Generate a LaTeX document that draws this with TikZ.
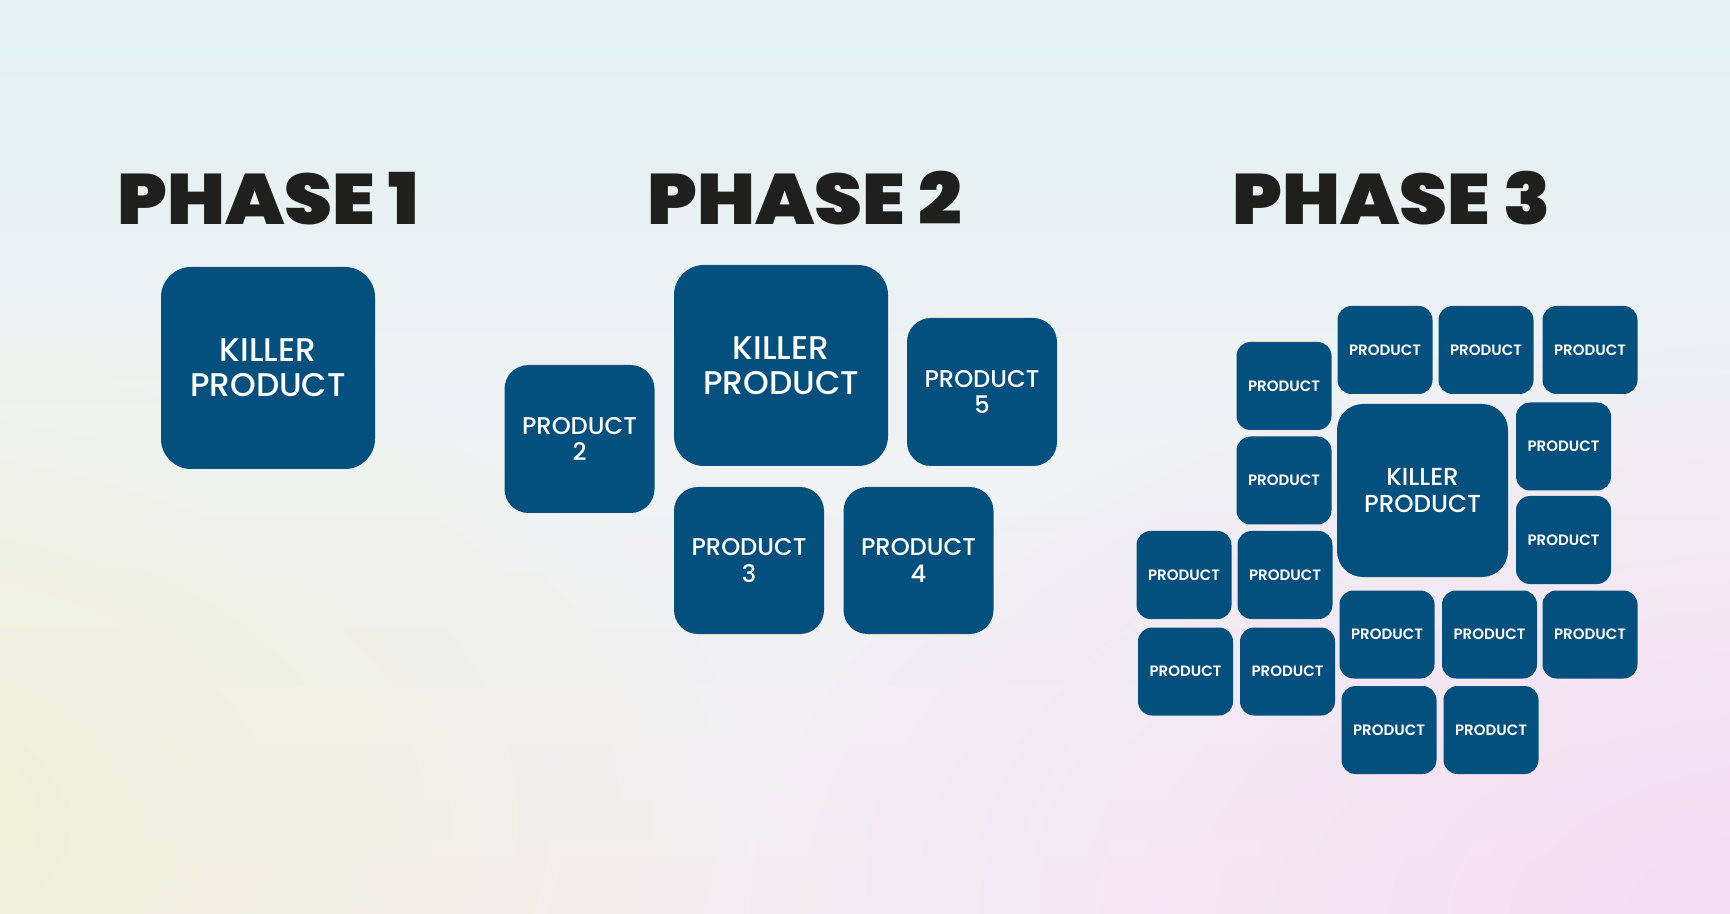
\documentclass[tikz,border=0pt]{standalone}
\usepackage{fontspec}
\usetikzlibrary{fadings}
\IfFontExistsTF{Poppins Black}{\newfontfamily\ttlfont{Poppins Black}}{\newfontfamily\ttlfont{Poppins}[FakeBold=2.5]}
\IfFontExistsTF{Poppins Medium}{\newfontfamily\medfont{Poppins Medium}}{\newfontfamily\medfont{Poppins}}
\IfFontExistsTF{Poppins SemiBold}{\newfontfamily\semifont{Poppins SemiBold}}{\newfontfamily\semifont{Poppins}[FakeBold=1]}
\definecolor{boxblue}{HTML}{03507F}
\definecolor{ink}{HTML}{1F1F1E}
\definecolor{bgtop}{HTML}{E3F1F1}
\definecolor{bgmid}{HTML}{F0F2F4}
\definecolor{bgbot}{HTML}{F3EEF2}
\definecolor{bgyel}{HTML}{F0F3D6}
\definecolor{bgpink}{HTML}{F6DCF3}
\tikzfading[name=myfade, inner color=transparent!0, outer color=transparent!100]
\newcommand{\ttlbox}[1]{\scalebox{1.075}[1]{#1}}
\begin{document}
\begin{tikzpicture}[x=0.5pt,y=-0.5pt,
  pbox/.style n args={3}{fill=boxblue, text=white, minimum width=#1*0.5pt,
    minimum height=#2*0.5pt, rounded corners=#3*0.5pt, inner sep=0pt, align=center},
  bigtxt/.style={font=\medfont\fontsize{16.4}{17.5}\selectfont},
  midtxt/.style={font=\medfont\fontsize{12.1}{13.25}\selectfont},
  smalltxt/.style={font=\semifont\fontsize{7.5}{9}\selectfont},
  kbig/.style={pbox={214}{202}{30}, bigtxt},
  pmid/.style={pbox={150}{148}{24}, midtxt},
  psm/.style={pbox={95}{88}{14}, smalltxt},
  ttl/.style={font=\ttlfont\fontsize{35.7}{40}\selectfont, text=ink, anchor=base, inner sep=0pt}]
% background
\useasboundingbox (0,0) rectangle (1730,914);
\fill[top color=bgtop, bottom color=bgbot, middle color=bgmid] (0,0) rectangle (1730,914);
\begin{scope}
\clip (0,0) rectangle (1730,914);
\fill[bgyel, opacity=0.95, path fading=myfade] (-150,820) ellipse [x radius=900, y radius=540];
\fill[bgpink, opacity=1, path fading=myfade] (1800,920) ellipse [x radius=1050, y radius=600];
\end{scope}
% titles
\node[ttl] (t1) at (268,224.5) {\ttlbox{PHASE 1}};
\node[ttl] (t2) at (804.5,224.5) {\ttlbox{PHASE 2}};
\node[ttl] (t3) at (1391.5,224.5) {\ttlbox{PHASE 3}};
% phase 1
\node[kbig] (k1) at (268,368) {KILLER\\PRODUCT};
% phase 2
\node[kbig, minimum height=201*0.5pt] (k2) at (781,365.5) {KILLER\\PRODUCT};
\node[pmid] (p2) at (579.5,439) {PRODUCT\\2};
\node[pmid] (p5) at (982,392) {PRODUCT\\5};
\node[pmid, minimum height=147*0.5pt] (p3) at (749,560.5) {PRODUCT\\3};
\node[pmid, minimum height=147*0.5pt] (p4) at (918.5,560.5) {PRODUCT\\4};
% phase 3
\node[pbox={171}{173}{26}, font=\medfont\fontsize{12.3}{13.2}\selectfont] (k3) at (1422.5,490.5) {KILLER\\PRODUCT};
\node[psm] (s1) at (1385,350) {PRODUCT};
\node[psm] (s2) at (1486,350) {PRODUCT};
\node[psm] (s3) at (1590,350) {PRODUCT};
\node[psm] (s4) at (1284,386) {PRODUCT};
\node[psm] (s5) at (1284,480.5) {PRODUCT};
\node[psm] (s6) at (1563.5,446.5) {PRODUCT};
\node[psm] (s7) at (1563.5,540) {PRODUCT};
\node[psm] (s8) at (1184,575) {PRODUCT};
\node[psm] (s9) at (1285,575) {PRODUCT};
\node[psm] (s10) at (1185.5,671.5) {PRODUCT};
\node[psm] (s11) at (1287.5,671.5) {PRODUCT};
\node[psm] (s12) at (1387,634.5) {PRODUCT};
\node[psm] (s13) at (1489.5,634.5) {PRODUCT};
\node[psm] (s14) at (1590,634.5) {PRODUCT};
\node[psm] (s15) at (1389,730) {PRODUCT};
\node[psm] (s16) at (1491,730) {PRODUCT};
\end{tikzpicture}
\end{document}
